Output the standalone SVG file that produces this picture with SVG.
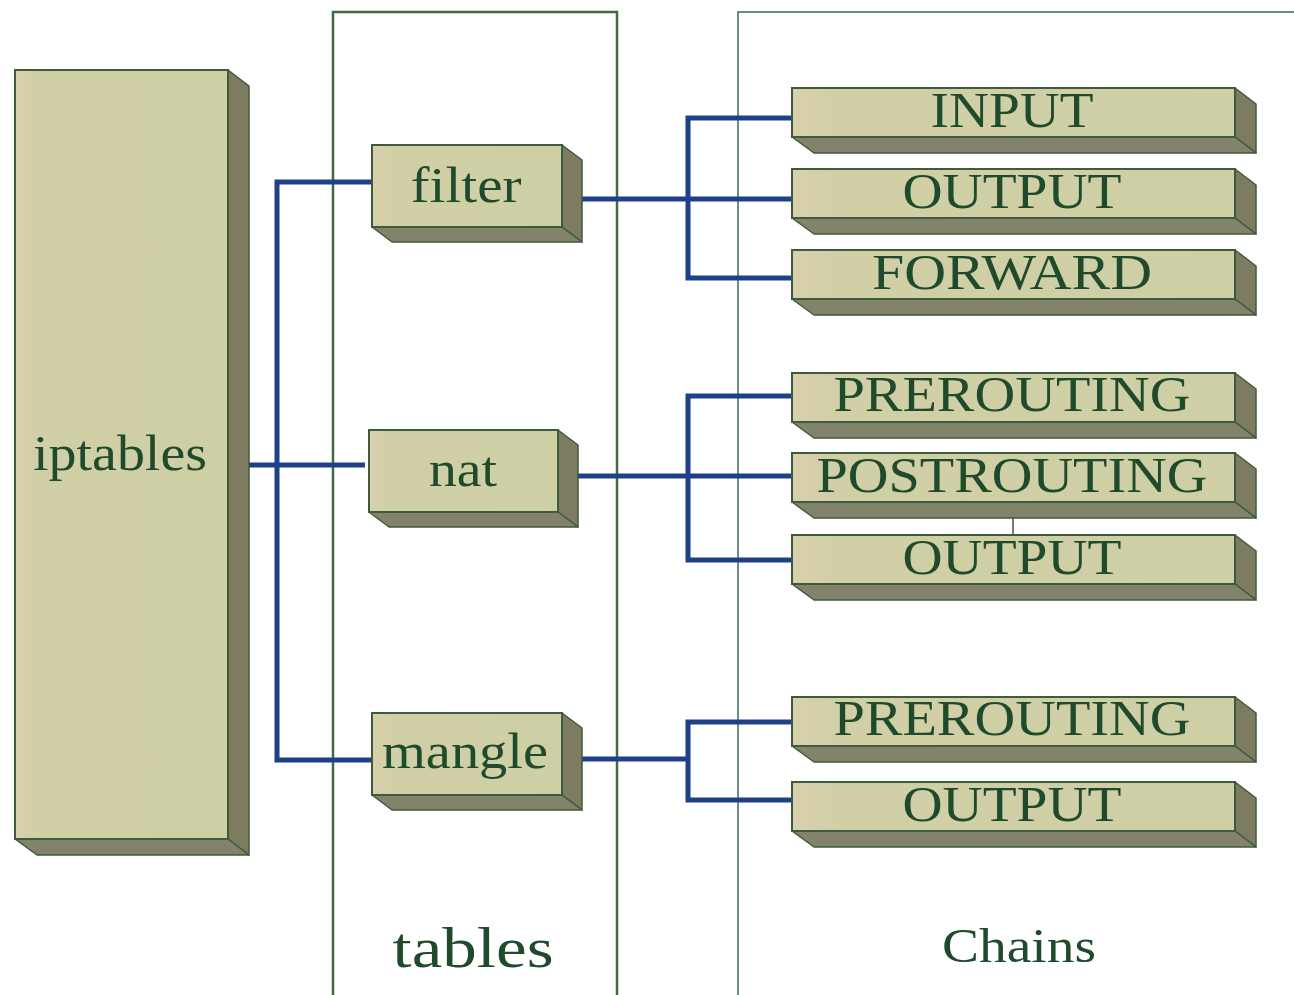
<svg xmlns="http://www.w3.org/2000/svg" width="1294" height="995" viewBox="0 0 1294 995">
  <style>
    .face { fill: url(#faceGrad); stroke: #3e5b3c; stroke-width: 2; }
    .side { fill: #7d7c61; stroke: #3e5b3c; stroke-width: 1.5; stroke-linejoin: round; }
    .bottom { fill: #83826a; stroke: #3e5b3c; stroke-width: 1.5; stroke-linejoin: round; }
    .panel { fill: none; stroke: #3f6a4a; }
    .lbl { font-family: "Liberation Serif", "Times New Roman", serif; fill: #1f4a2c; text-anchor: middle; }
    .wire { fill: none; stroke: #1e4088; stroke-width: 5; stroke-linejoin: miter; }
    .thin { fill: none; stroke: #7a7a7a; stroke-width: 2; }
  </style>
  <defs>
    <linearGradient id="faceGrad" x1="0" y1="0" x2="1" y2="0">
      <stop offset="0" stop-color="#d8d0ac"/>
      <stop offset="0.12" stop-color="#d0cfa6"/>
      <stop offset="1" stop-color="#cfcfa5"/>
    </linearGradient>
  </defs>

  <rect width="1294" height="995" fill="#ffffff"/>

  <!-- column panels -->
  <g id="panels">
    <path class="panel" stroke-width="2.5" d="M333,1000 V12 H617 V1000"/>
    <path class="panel" stroke-width="1.5" d="M738,1000 V12 H1294"/>
  </g>

  <!-- connectors -->
  <g id="connectors">
    <path class="wire" d="M240,465 H365"/>
    <path class="wire" d="M372,182 H277 V760 H372"/>
    <path class="wire" d="M582,199 H792"/>
    <path class="wire" d="M792,118 H688 V278 H792"/>
    <path class="wire" d="M578,476 H792"/>
    <path class="wire" d="M792,396 H688 V560 H792"/>
    <path class="wire" d="M582,759 H688"/>
    <path class="wire" d="M792,722 H688 V800 H792"/>
    <path class="thin" d="M1013,502 V535"/>
  </g>

  <!-- iptables -->
  <g id="iptables">
    <polygon class="side" points="228,70 249,86 249,855 228,839"/>
    <polygon class="bottom" points="15,839 228,839 249,855 37,855"/>
    <rect class="face" x="15" y="70" width="213" height="769"/>
    <text class="lbl" x="120" y="470" font-size="50" textLength="174" lengthAdjust="spacingAndGlyphs">iptables</text>
  </g>

  <!-- tables -->
  <g id="table-filter">
    <polygon class="side" points="562,145 582,160 582,242 562,227"/>
    <polygon class="bottom" points="372,227 562,227 582,242 392,242"/>
    <rect class="face" x="372" y="145" width="190" height="82"/>
    <text class="lbl" x="466" y="202" font-size="50" textLength="111" lengthAdjust="spacingAndGlyphs">filter</text>
  </g>
  <g id="table-nat">
    <polygon class="side" points="558,430 578,445 578,527 558,512"/>
    <polygon class="bottom" points="369,512 558,512 578,527 389,527"/>
    <rect class="face" x="369" y="430" width="189" height="82"/>
    <text class="lbl" x="463" y="486" font-size="50" textLength="68" lengthAdjust="spacingAndGlyphs">nat</text>
  </g>
  <g id="table-mangle">
    <polygon class="side" points="562,713 582,728 582,810 562,795"/>
    <polygon class="bottom" points="372,795 562,795 582,810 392,810"/>
    <rect class="face" x="372" y="713" width="190" height="82"/>
    <text class="lbl" x="465" y="768" font-size="50" textLength="166" lengthAdjust="spacingAndGlyphs">mangle</text>
  </g>

  <!-- chains: filter -->
  <g id="chain-filter-input">
    <polygon class="side" points="1235,88 1256,104 1256,153 1235,137"/>
    <polygon class="bottom" points="792,137 1235,137 1256,153 814,153"/>
    <rect class="face" x="792" y="88" width="443" height="49"/>
    <text class="lbl" x="1012" y="127" font-size="51" textLength="163" lengthAdjust="spacingAndGlyphs">INPUT</text>
  </g>
  <g id="chain-filter-output">
    <polygon class="side" points="1235,169 1256,185 1256,234 1235,218"/>
    <polygon class="bottom" points="792,218 1235,218 1256,234 814,234"/>
    <rect class="face" x="792" y="169" width="443" height="49"/>
    <text class="lbl" x="1012" y="208" font-size="51" textLength="219" lengthAdjust="spacingAndGlyphs">OUTPUT</text>
  </g>
  <g id="chain-filter-forward">
    <polygon class="side" points="1235,250 1256,266 1256,315 1235,299"/>
    <polygon class="bottom" points="792,299 1235,299 1256,315 814,315"/>
    <rect class="face" x="792" y="250" width="443" height="49"/>
    <text class="lbl" x="1012" y="289" font-size="51" textLength="280" lengthAdjust="spacingAndGlyphs">FORWARD</text>
  </g>

  <!-- chains: nat -->
  <g id="chain-nat-prerouting">
    <polygon class="side" points="1235,373 1256,389 1256,438 1235,422"/>
    <polygon class="bottom" points="792,422 1235,422 1256,438 814,438"/>
    <rect class="face" x="792" y="373" width="443" height="49"/>
    <text class="lbl" x="1012" y="411" font-size="51" textLength="357" lengthAdjust="spacingAndGlyphs">PREROUTING</text>
  </g>
  <g id="chain-nat-postrouting">
    <polygon class="side" points="1235,453 1256,469 1256,518 1235,502"/>
    <polygon class="bottom" points="792,502 1235,502 1256,518 814,518"/>
    <rect class="face" x="792" y="453" width="443" height="49"/>
    <text class="lbl" x="1012" y="492" font-size="51" textLength="391" lengthAdjust="spacingAndGlyphs">POSTROUTING</text>
  </g>
  <g id="chain-nat-output">
    <polygon class="side" points="1235,535 1256,551 1256,600 1235,584"/>
    <polygon class="bottom" points="792,584 1235,584 1256,600 814,600"/>
    <rect class="face" x="792" y="535" width="443" height="49"/>
    <text class="lbl" x="1012" y="574" font-size="51" textLength="219" lengthAdjust="spacingAndGlyphs">OUTPUT</text>
  </g>

  <!-- chains: mangle -->
  <g id="chain-mangle-prerouting">
    <polygon class="side" points="1235,697 1256,713 1256,762 1235,746"/>
    <polygon class="bottom" points="792,746 1235,746 1256,762 814,762"/>
    <rect class="face" x="792" y="697" width="443" height="49"/>
    <text class="lbl" x="1012" y="735" font-size="51" textLength="357" lengthAdjust="spacingAndGlyphs">PREROUTING</text>
  </g>
  <g id="chain-mangle-output">
    <polygon class="side" points="1235,782 1256,798 1256,847 1235,831"/>
    <polygon class="bottom" points="792,831 1235,831 1256,847 814,847"/>
    <rect class="face" x="792" y="782" width="443" height="49"/>
    <text class="lbl" x="1012" y="821" font-size="51" textLength="219" lengthAdjust="spacingAndGlyphs">OUTPUT</text>
  </g>

  <!-- column captions -->
  <g id="captions">
    <text class="lbl" x="473" y="967" font-size="56" fill="#2c4a3a" textLength="161" lengthAdjust="spacingAndGlyphs">tables</text>
    <text class="lbl" x="1019" y="962" font-size="48" fill="#2c4a3a" textLength="154" lengthAdjust="spacingAndGlyphs">Chains</text>
  </g>
</svg>
